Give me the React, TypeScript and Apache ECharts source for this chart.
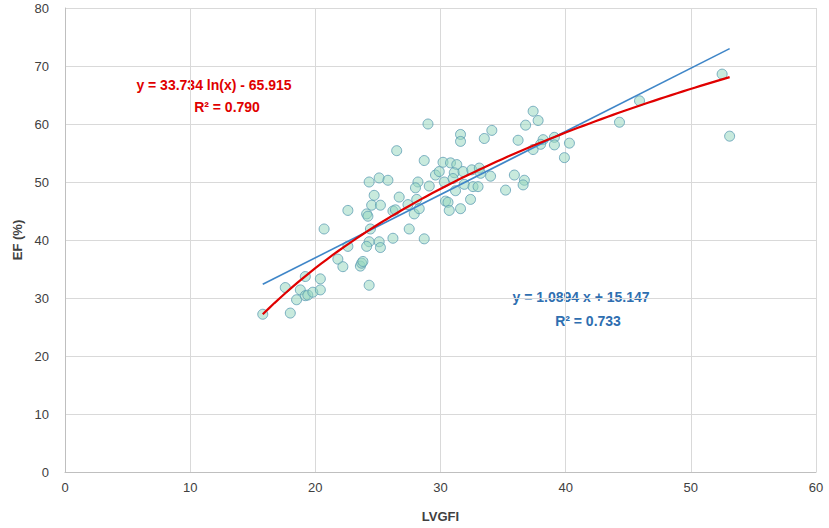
import React, { useEffect, useRef } from "react";
import * as echarts from "echarts";

// LVGFI (x) values of the measured points
const lvgfi: number[] = [
  15.8, 18.0, 17.6, 18.5, 18.8, 19.2, 19.2, 19.4, 19.8, 20.4,
  20.4, 20.7, 21.8, 22.2, 22.6, 22.6, 23.6, 23.7, 23.8, 24.3,
  24.3, 25.1, 25.8, 24.7, 24.5, 25.2, 24.1, 24.2, 24.4, 24.3,
  24.1, 25.1, 25.2, 26.2, 26.2, 26.4, 26.7, 27.5, 27.4, 27.9,
  28.1, 28.2, 28.0, 28.3, 28.7, 26.5, 29.0, 29.1, 28.7, 29.6,
  29.9, 30.2, 30.8, 31.3, 31.1, 31.8, 32.5, 33.1, 33.2, 34.0,
  35.9, 36.7, 36.6, 35.2, 30.3, 31.0, 31.9, 32.6, 33.0, 31.2,
  32.4, 30.4, 30.6, 30.7, 31.6, 31.6, 31.6, 33.5, 34.1, 37.4,
  37.8, 36.8, 36.2, 38.2, 39.1, 39.1, 40.3, 39.9, 37.4, 38.0,
  44.3, 45.9, 52.5, 53.1,
];

// EF (%) values of the measured points
const ef: number[] = [
  27.2, 27.4, 31.8, 29.7, 31.4, 30.4, 33.7, 30.5, 31.0, 31.4,
  33.3, 41.9, 36.7, 35.4, 45.1, 38.9, 35.5, 36.0, 36.3, 32.2,
  50.0, 50.7, 50.3, 47.7, 46.0, 46.0, 44.5, 44.1, 41.9, 39.7,
  38.9, 39.7, 38.7, 40.3, 45.0, 45.2, 47.4, 41.9, 46.1, 44.5,
  47.0, 50.0, 49.0, 45.4, 40.2, 55.4, 60.0, 49.3, 53.7, 51.2,
  51.8, 53.4, 53.3, 53.0, 51.6, 51.8, 52.1, 52.4, 51.5, 51.0,
  51.2, 50.3, 49.5, 48.6, 50.0, 50.6, 49.6, 49.2, 49.2, 48.5,
  47.0, 46.7, 46.5, 45.1, 45.4, 58.2, 57.0, 57.5, 58.9, 62.2,
  60.6, 59.8, 57.2, 57.3, 57.7, 56.4, 56.7, 54.2, 55.6, 56.5,
  60.3, 64.0, 68.6, 57.9,
];

// Trendline coefficients (as printed on the chart)
const linSlope = 1.0894;
const linIntercept = 15.147;
const logA = 33.734;
const logB = -65.915;
const trendRange: number[] = [15.8, 53.1];

const xTicks: number[] = [0, 10, 20, 30, 40, 50, 60];
const yTicks: number[] = [0, 10, 20, 30, 40, 50, 60, 70, 80];

const logEqText = "y = 33.734 ln(x) - 65.915";
const logR2Text = "R² = 0.790";
const linEqText = "y = 1.0894 x + 15.147";
const linR2Text = "R² = 0.733";

export default function App() {
  const ref = useRef<HTMLDivElement>(null);

  useEffect(() => {
    if (!ref.current) return;
    const chart = echarts.init(ref.current, undefined, { renderer: "svg" });

    const points = lvgfi.map((x, i) => [x, ef[i]]);
    const [x0, x1] = trendRange;
    const linLine = [
      [x0, linSlope * x0 + linIntercept],
      [x1, linSlope * x1 + linIntercept],
    ];
    const logLine: number[][] = [];
    const steps = 80;
    for (let i = 0; i <= steps; i++) {
      const x = x0 + ((x1 - x0) * i) / steps;
      logLine.push([x, logA * Math.log(x) + logB]);
    }

    const font = "'Liberation Sans', Arial, sans-serif";

    chart.setOption({
      animation: false,
      backgroundColor: "#ffffff",
      grid: { left: 65, top: 8, right: 13, bottom: 55, containLabel: false },
      xAxis: {
        type: "value",
        min: xTicks[0],
        max: xTicks[xTicks.length - 1],
        interval: 10,
        name: "LVGFI",
        nameLocation: "middle",
        nameGap: 38,
        nameTextStyle: { fontFamily: font, fontWeight: "bold", fontSize: 13, color: "#404040" },
        axisLine: { show: true, lineStyle: { color: "#BFBFBF", width: 1 } },
        axisTick: { show: false },
        axisLabel: { fontFamily: font, fontSize: 13, color: "#404040", margin: 9 },
        splitLine: { show: true, lineStyle: { color: "#D9D9D9", width: 1 } },
      },
      yAxis: {
        type: "value",
        min: yTicks[0],
        max: yTicks[yTicks.length - 1],
        interval: 10,
        name: "EF (%)",
        nameLocation: "middle",
        nameGap: 40,
        nameRotate: 90,
        nameTextStyle: { fontFamily: font, fontWeight: "bold", fontSize: 13, color: "#404040" },
        axisLine: { show: true, lineStyle: { color: "#BFBFBF", width: 1 } },
        axisTick: { show: false },
        axisLabel: { fontFamily: font, fontSize: 13, color: "#404040", margin: 16 },
        splitLine: { show: true, lineStyle: { color: "#D9D9D9", width: 1 } },
      },
      series: [
        {
          type: "scatter",
          data: points,
          symbol: "circle",
          symbolSize: 10,
          itemStyle: {
            color: "rgba(150, 215, 190, 0.65)",
            borderColor: "#5E9EB4",
            borderWidth: 1,
          },
          z: 2,
        },
        {
          type: "line",
          data: linLine,
          showSymbol: false,
          symbol: "none",
          lineStyle: { color: "#3F86C8", width: 1.6 },
          z: 3,
        },
        {
          type: "line",
          data: logLine,
          showSymbol: false,
          symbol: "none",
          smooth: false,
          lineStyle: { color: "#E00000", width: 2.2 },
          z: 4,
        },
      ],
      graphic: [
        {
          type: "text",
          x: 214,
          y: 85,
          style: {
            text: logEqText,
            fill: "#E00000",
            font: `bold 14px ${font}`,
            textAlign: "center",
            textVerticalAlign: "middle",
          },
        },
        {
          type: "text",
          x: 227,
          y: 107,
          style: {
            text: logR2Text,
            fill: "#E00000",
            font: `bold 14px ${font}`,
            textAlign: "center",
            textVerticalAlign: "middle",
          },
        },
        {
          type: "text",
          x: 581,
          y: 297,
          style: {
            text: linEqText,
            fill: "#2E6EB0",
            font: `bold 14px ${font}`,
            textAlign: "center",
            textVerticalAlign: "middle",
          },
        },
        {
          type: "text",
          x: 588,
          y: 321,
          style: {
            text: linR2Text,
            fill: "#2E6EB0",
            font: `bold 14px ${font}`,
            textAlign: "center",
            textVerticalAlign: "middle",
          },
        },
      ],
    });

    return () => chart.dispose();
  }, []);

  return (
    <div
      ref={ref}
      style={{ position: "fixed", left: 0, top: 0, width: 829, height: 528 }}
    />
  );
}
